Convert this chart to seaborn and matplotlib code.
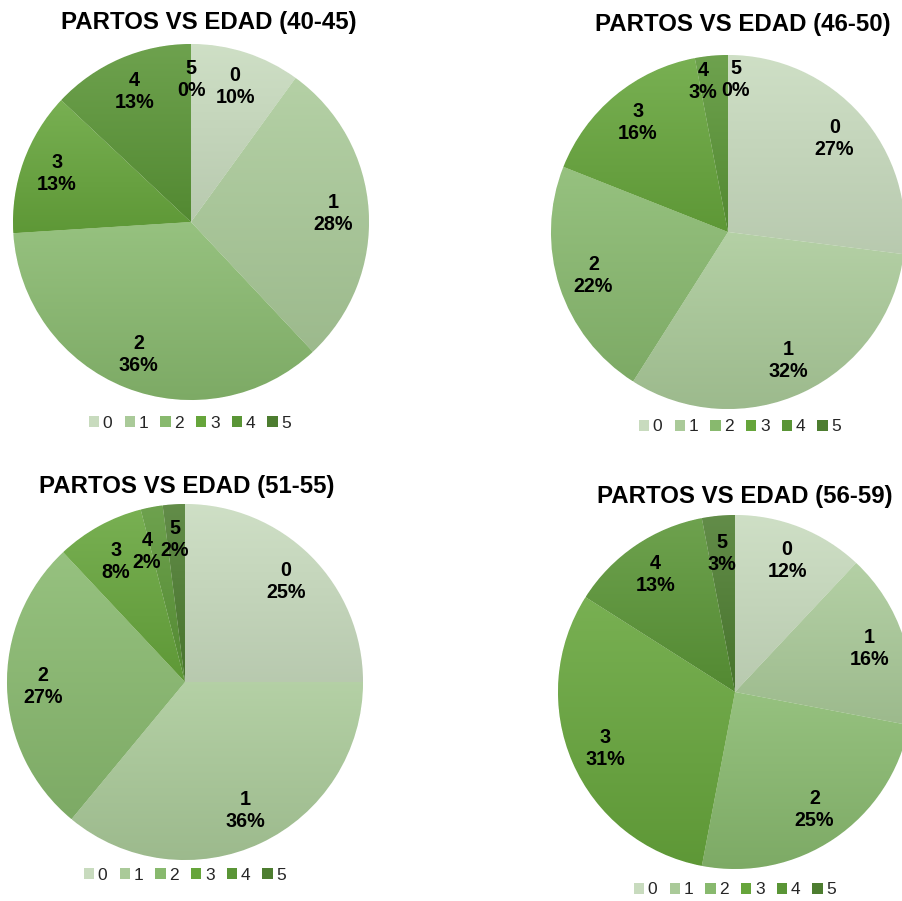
import matplotlib
matplotlib.use("Agg")
import numpy as np
import matplotlib.pyplot as plt
from matplotlib.colors import to_rgb
from matplotlib.patches import Patch
import seaborn as sns

# ---- data ----
categories = ["0", "1", "2", "3", "4", "5"]
titles = ["PARTOS VS EDAD (40-45)", "PARTOS VS EDAD (46-50)",
          "PARTOS VS EDAD (51-55)", "PARTOS VS EDAD (56-59)"]
vals_40_45 = [10, 28, 36, 13, 13, 0]
vals_46_50 = [27, 32, 22, 16, 3, 0]
vals_51_55 = [25, 36, 27, 8, 2, 2]
vals_56_59 = [12, 16, 25, 31, 13, 3]
colors = ["#C8DBBE", "#AACA99", "#88B96E", "#66A53B", "#5A9536", "#4D7D30"]

sns.set_theme(style="white")
plt.rcParams["font.family"] = ["Liberation Sans", "DejaVu Sans"]

W, H = 903, 901
fig = plt.figure(figsize=(W / 100, H / 100), dpi=100)
ax = fig.add_axes([0, 0, 1, 1])

# layout in pixel coordinates (x, y from top)
layout = [
    dict(vals=vals_40_45, c=(191, 222), r=178, t=(209, 22), lg=(190, 423),
         fix={}),
    dict(vals=vals_46_50, c=(728, 232), r=177, t=(743, 25), lg=(740, 427),
         fix={4: (703, 82), 5: (736, 79)}),
    dict(vals=vals_51_55, c=(185, 682), r=178, t=(187, 486), lg=(185, 875),
         fix={3: (116, 562), 4: (147, 551), 5: (175, 540)}),
    dict(vals=vals_56_59, c=(735, 692), r=177, t=(745, 496), lg=(735, 890),
         fix={5: (722, 553)}),
]


def make_autopct(cats):
    it = iter(cats)
    def f(pct):
        return f"{next(it)}\n{pct:.0f}%"
    return f


def blend(c, other, a):
    c = np.array(to_rgb(c))
    return c * (1 - a) + np.array(other) * a


for spec, title in zip(layout, titles):
    cx, cy = spec["c"]
    wedges, _, autotexts = ax.pie(
        spec["vals"], colors=colors, startangle=90, counterclock=False,
        center=(cx, H - cy), radius=spec["r"],
        autopct=make_autopct(categories), pctdistance=0.8,
        wedgeprops=dict(edgecolor="white", linewidth=0.6),
        textprops=dict(fontsize=14.2, fontweight="bold", color="black",
                       linespacing=1.2))
    # vertical gradient fill on each wedge
    for w, col in zip(wedges, colors):
        ext = w.get_path().get_extents()
        if ext.height <= 0 or ext.width <= 0:
            continue
        top = blend(col, (1, 1, 1), 0.12)
        bot = blend(col, (0, 0, 0), 0.08)
        t = np.linspace(0, 1, 256)[:, None]
        grad = (top[None, :] * (1 - t) + bot[None, :] * t)[:, None, :]
        im = ax.imshow(grad, extent=[ext.x0, ext.x1, ext.y0, ext.y1],
                       origin="upper", aspect="auto", zorder=1.5,
                       interpolation="bilinear")
        im.set_clip_path(w)
    for k, (px, py) in spec["fix"].items():
        autotexts[k].set_position((px, H - py))
    for at in autotexts:
        at.set_zorder(3)
    tx, ty = spec["t"]
    ax.text(tx, H - ty, title, ha="center", va="center", fontsize=17.3,
            fontweight="bold", color="black")
    lx, ly = spec["lg"]
    handles = [Patch(facecolor=col, edgecolor="none") for col in colors]
    fig.legend(handles, categories, loc="center",
               bbox_to_anchor=(lx / W, 1 - ly / H), ncol=6, frameon=False,
               fontsize=12.5, handlelength=0.6, handleheight=0.6,
               handletextpad=0.2, columnspacing=0.7, borderpad=0,
               borderaxespad=0)

ax.set_xlim(0, W)
ax.set_ylim(0, H)
ax.set_aspect("auto")
ax.axis("off")

fig.savefig("out.png", dpi=100)
